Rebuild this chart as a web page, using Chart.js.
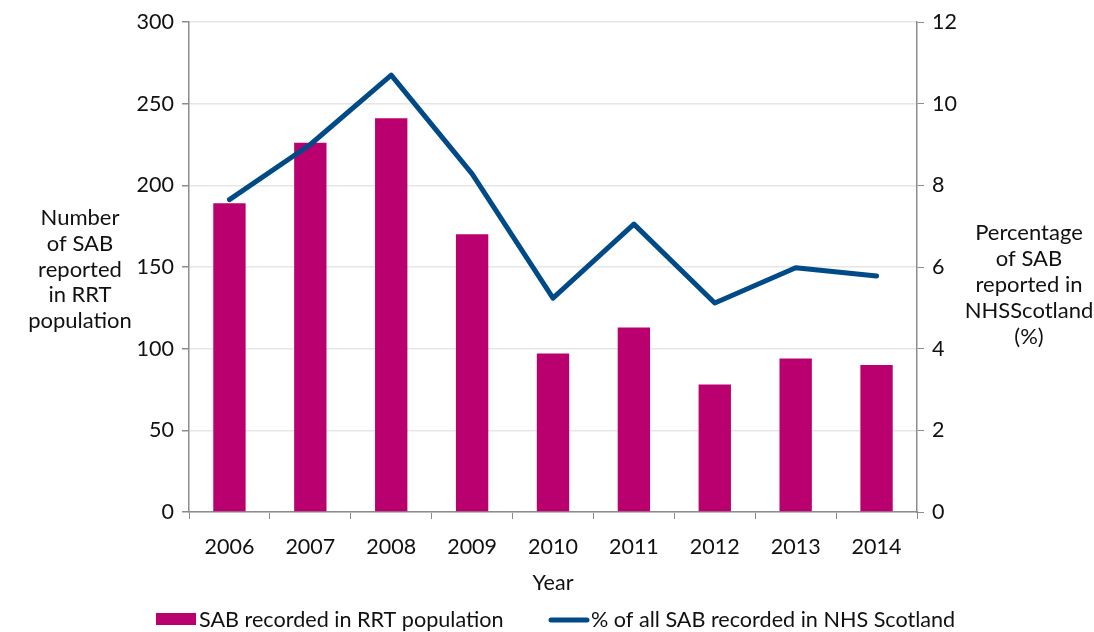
<!DOCTYPE html>
<html>
<head>
<meta charset="utf-8">
<script src="https://cdn.jsdelivr.net/npm/chart.js@4"></script>
<style>
  html, body { margin: 0; padding: 0; background: #fff; }
  #wrap { width: 1094px; height: 632px; position: relative; }
</style>
</head>
<body>
<div id="wrap"><canvas id="c" width="1094" height="632"></canvas></div>
<script>
// Staphylococcus aureus bacteraemia (SAB) in the renal replacement therapy population
const years = ['2006', '2007', '2008', '2009', '2010', '2011', '2012', '2013', '2014'];
const sabCounts = [189, 226, 241, 170, 97, 113, 78, 94, 90];
const sabPercent = [7.65, 9.0, 10.7, 8.28, 5.24, 7.05, 5.12, 5.98, 5.78];
const leftTicks = [0, 50, 100, 150, 200, 250, 300];
const rightTicks = [0, 2, 4, 6, 8, 10, 12];

const barLabel = 'SAB recorded in RRT population';
const lineLabel = '% of all SAB recorded in NHS Scotland';
const leftTitle = ['Number', 'of SAB', 'reported', 'in RRT', 'population'];
const rightTitle = ['Percentage', 'of SAB', 'reported in', 'NHSScotland', '(%)'];

const FONT = 'Lato, "Open Sans", sans-serif';
const TEXT = '#111';
const AXIS = '#8c8c8c';
const BAR = '#ba006f';
const LINE = '#004a87';

// Unrotated side titles and a bottom legend
const decorations = {
  id: 'decorations',
  afterDraw(chart) {
    const { ctx } = chart;
    ctx.save();
    ctx.fillStyle = TEXT;
    ctx.font = '22px ' + FONT;
    ctx.textAlign = 'center';
    ctx.textBaseline = 'middle';
    leftTitle.forEach((t, i) => ctx.fillText(t, 80, 218 + i * 25.8));
    rightTitle.forEach((t, i) => ctx.fillText(t, 1029, 233 + i * 26));

    // legend
    const ly = 620;
    ctx.font = '21.6px ' + FONT;
    ctx.textAlign = 'left';
    ctx.fillStyle = BAR;
    ctx.fillRect(156, ly - 7, 40, 12);
    ctx.fillStyle = TEXT;
    ctx.fillText(barLabel, 199, ly);
    ctx.strokeStyle = LINE;
    ctx.lineWidth = 5;
    ctx.lineCap = 'round';
    ctx.beginPath();
    ctx.moveTo(551, ly);
    ctx.lineTo(587, ly);
    ctx.stroke();
    ctx.fillText(lineLabel, 591, ly);
    ctx.restore();
  }
};

new Chart(document.getElementById('c'), {
  type: 'bar',
  data: {
    labels: years,
    datasets: [
      {
        type: 'line',
        label: lineLabel,
        data: sabPercent,
        yAxisID: 'yR',
        borderColor: LINE,
        backgroundColor: LINE,
        borderWidth: 5,
        pointRadius: 0,
        tension: 0,
        order: 0,
        borderCapStyle: 'round',
        borderJoinStyle: 'round'
      },
      {
        type: 'bar',
        label: barLabel,
        data: sabCounts,
        yAxisID: 'y',
        backgroundColor: BAR,
        borderWidth: 0,
        barPercentage: 0.4,
        categoryPercentage: 1.0,
        order: 1
      }
    ]
  },
  options: {
    responsive: false,
    animation: false,
    devicePixelRatio: 1,
    layout: { padding: { top: 22, left: 0, right: 0, bottom: 30 } },
    plugins: {
      legend: { display: false },
      tooltip: { enabled: false }
    },
    scales: {
      x: {
        offset: true,
        grid: {
          offset: true,
          drawOnChartArea: false,
          color: AXIS,
          tickLength: 7
        },
        border: { color: AXIS, width: 1.5 },
        ticks: { color: TEXT, font: { family: FONT, size: 21.5 }, padding: 15 },
        title: {
          display: true,
          text: 'Year',
          color: TEXT,
          font: { family: FONT, size: 21.5 },
          padding: { top: 0, bottom: 6 }
        },
        afterFit(scale) { scale.height = 90; }
      },
      y: {
        position: 'left',
        min: 0,
        max: 300,
        afterBuildTicks(scale) { scale.ticks = leftTicks.map(v => ({ value: v })); },
        grid: { color: '#e6e6e6', tickColor: AXIS, tickLength: 7, lineWidth: 1.5 },
        border: { color: AXIS, width: 1.5 },
        ticks: { color: TEXT, font: { family: FONT, size: 21.5 }, padding: 8 },
        afterFit(scale) { scale.width = 189; }
      },
      yR: {
        position: 'right',
        min: 0,
        max: 12,
        afterBuildTicks(scale) { scale.ticks = rightTicks.map(v => ({ value: v })); },
        grid: { drawOnChartArea: false, color: AXIS, tickLength: 7 },
        border: { color: AXIS, width: 1.5 },
        ticks: { color: TEXT, font: { family: FONT, size: 21.5 }, padding: 8 },
        afterFit(scale) { scale.width = 177; }
      }
    }
  },
  plugins: [decorations]
});
</script>
</body>
</html>
